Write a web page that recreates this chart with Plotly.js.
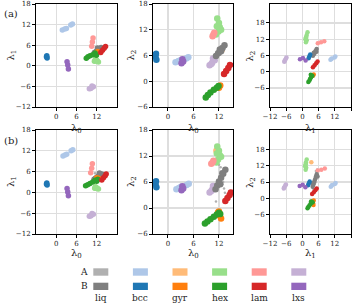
<!DOCTYPE html>
<html><head><meta charset="utf-8">
<script src="https://cdn.plot.ly/plotly-3.0.1.min.js"></script>
<style>html,body{margin:0;padding:0;background:#fff}#chart{width:355px;height:307px}</style>
</head><body><div id="chart"></div>
<script>
// ---- data: cluster points as [lambda0, lambda1, lambda2] ----
const phases = ['liq','bcc','gyr','hex','lam','lxs'];
const setLabels = ['A','B'];
const axisLabels = ['λ<sub>0</sub>','λ<sub>1</sub>','λ<sub>2</sub>'];

// row (a)
const aLiqA = [[12.0,4.4,6.6],[12.8,4.9,7.8]];
const aLiqB = [[11.3,3.9,5.9],[11.8,4.2,6.5],[12.3,4.6,7.1],[12.8,5.0,7.7],[13.3,5.3,8.4],[12.5,4.2,7.0],[12.2,5.2,7.4]];
const aBccA = [[1.8,10.4,4.4],[2.5,10.7,4.7],[3.0,10.9,4.9],[4.3,11.9,5.3],[4.8,12.2,5.6]];
const aBccB = [[-2.8,2.9,6.4],[-2.9,2.6,5.7],[-2.7,2.3,5.0]];
const aGyrA = [[12.6,4.8,7.3]];
const aGyrB = [[12.0,3.9,-1.5],[12.3,4.2,-1.0]];
const aHexA = [[11.6,1.9,14.6],[12.0,1.6,13.6],[12.2,1.3,12.6],[11.9,1.6,11.6],[11.3,1.3,10.9],[12.5,1.1,12.0],[11.5,1.4,12.8]];
const aHexB = [[8.9,2.2,-3.8],[9.4,2.6,-3.2],[10.0,2.9,-2.6],[10.8,3.2,-2.0],[11.5,3.7,-1.5],[11.9,3.1,-1.1]];
const aLamA = [[10.5,5.7,10.5],[10.7,6.9,10.9],[10.9,8.1,11.3]];
const aLamB = [[13.2,3.9,1.7],[13.7,4.5,2.4],[14.2,5.1,3.1],[14.6,5.6,3.8]];
const aLxsA = [[9.8,-6.7,3.7],[10.4,-6.4,4.3],[11.0,-6.1,4.9],[10.6,-5.9,5.3],[10.2,-6.6,4.0]];
const aLxsB = [[3.2,1.2,4.2],[3.4,0.2,5.1],[3.6,-0.9,4.6]];

// row (b)
const bLiqA = [[11.5,5.5,10.6],[12.0,5.0,10.0],[12.4,5.2,9.4],[12.8,4.6,5.5],[13.2,4.2,4.5],[13.4,4.0,3.5],[11.3,3.5,1.5],[13.0,4.8,6.0]];
const bLiqB = [[11.2,3.8,4.3],[11.6,4.1,5.2],[12.0,4.4,6.1],[12.5,4.7,7.0],[13.0,5.0,7.9],[13.5,5.3,8.8],[12.3,3.7,5.5],[12.8,5.6,8.0]];
const bBccA = [[2.0,10.5,4.3],[2.6,10.8,4.6],[3.1,11.0,4.9],[4.4,12.0,5.3],[4.9,12.3,5.6]];
const bBccB = [[-2.8,2.7,6.2],[-2.9,2.4,5.5],[-2.7,2.1,4.8]];
const bGyrA = [[11.4,3.3,13.2]];
const bGyrB = [[11.8,3.6,-1.0],[12.2,3.9,-1.8],[12.5,4.1,-2.4],[12.0,4.2,-0.8]];
const bHexA = [[11.6,1.6,14.2],[12.0,1.3,13.2],[12.2,1.1,12.2],[11.8,1.4,11.2],[11.4,1.2,10.5],[12.5,1.0,11.8],[11.5,1.3,12.6]];
const bHexB = [[8.7,1.9,-3.6],[9.3,2.2,-3.1],[10.0,2.6,-2.6],[10.8,3.0,-2.0],[11.5,3.5,-1.5],[12.0,3.2,-1.1],[12.3,3.8,-1.4]];
const bLamA = [[10.2,5.7,10.2],[10.5,7.0,10.5],[10.7,8.3,10.9]];
const bLamB = [[13.5,3.6,1.6],[14.0,4.2,2.3],[14.5,4.8,3.0],[14.8,5.3,3.6]];
const bLxsA = [[9.8,-6.9,3.6],[10.4,-6.6,4.2],[11.0,-6.3,4.8],[10.6,-6.1,5.1],[10.2,-6.8,3.9]];
const bLxsB = [[3.2,1.1,4.1],[3.4,0.1,5.0],[3.6,-1.0,4.5]];

// ---- styling ----
const colorsA = ['#b0b0b0','#aec7e8','#ffbb78','#98df8a','#ff9896','#c5b0d5'];
const colorsB = ['#7f7f7f','#1f77b4','#ff7f0e','#2ca02c','#d62728','#9467bd'];
const rows = [
  {A:[aLiqA,aBccA,aGyrA,aHexA,aLamA,aLxsA], B:[aLiqB,aBccB,aGyrB,aHexB,aLamB,aLxsB]},
  {A:[bLiqA,bBccA,bGyrA,bHexA,bLamA,bLxsA], B:[bLiqB,bBccB,bGyrB,bHexB,bLamB,bLxsB]}
];
const panels = [[0,1],[0,2],[1,2]];
const W=355,H=307;
const colPx = [[36,117],[153,233],[270,351]];
const rowPx = [[4,107],[130,234]];
const xTitleY = [128.5,253.5];
const yTitleX = [11,131,250];
const xRanges = [[-6,18],[-3.5,15.3],[-12,18]];
const yRanges = [[-12,18],[-6,18],[-13,25]];
const xTicks = [[0,6,12],[0,6,12],[-12,-6,0,6,12,18]];
const yTicks = [[-12,-6,0,6,12,18],[-6,0,6,12,18],[-6,0,6,12,18]];
const mSize = [5.5,6.5,4.5];
const FONT = 'DejaVu Serif';
const TICK = 7;

const traces=[]; const layout={
  width:W,height:H,margin:{l:0,r:0,t:0,b:0},paper_bgcolor:'#fff',plot_bgcolor:'#fff',
  showlegend:false,font:{family:FONT,size:TICK,color:'#222'},annotations:[],shapes:[]
};
function ann(text,xp,yp,size,extra){
  layout.annotations.push(Object.assign({text:text,xref:'paper',yref:'paper',x:xp/W,y:1-yp/H,xanchor:'center',yanchor:'middle',
    showarrow:false,font:{family:FONT,size:size,color:'#222'}},extra||{}));
}
rows.forEach((row,r)=>{
  panels.forEach((pp,c)=>{
    const n = r*3+c+1; const sfx = n===1?'':String(n);
    ['A','B'].forEach(s=>{
      row[s].forEach((pts,k)=>{
        const isScatter = (r===1 && s==='A' && k===0);
        traces.push({type:'scatter',mode:'markers',
          x:pts.map(q=>q[pp[0]]), y:pts.map(q=>q[pp[1]]),
          xaxis:'x'+sfx, yaxis:'y'+sfx, hoverinfo:'skip',
          marker:{color:(s==='A'?colorsA:colorsB)[k], size: isScatter?2.5:mSize[c], line:{width:0}}});
      });
    });
    const common = {showline:true,mirror:true,linecolor:'#000',linewidth:1,ticks:'outside',ticklen:3,tickwidth:1,tickcolor:'#000',
      showgrid:true,gridcolor:'#dedede',gridwidth:1.3,zeroline:false,tickangle:0,tickfont:{family:FONT,size:TICK,color:'#222'}};
    layout['xaxis'+sfx] = Object.assign({},common,{domain:[colPx[c][0]/W,colPx[c][1]/W],range:xRanges[c],
      tickvals:xTicks[c], anchor:'y'+sfx});
    layout['yaxis'+sfx] = Object.assign({},common,{domain:[1-rowPx[r][1]/H,1-rowPx[r][0]/H],range:yRanges[c],
      tickvals:yTicks[c], anchor:'x'+sfx});
    ann(axisLabels[pp[0]], (colPx[c][0]+colPx[c][1])/2, xTitleY[r], 10);
    ann(axisLabels[pp[1]], yTitleX[c], (rowPx[r][0]+rowPx[r][1])/2, 10, {textangle:-90});
  });
});
// panel labels
ann('(a)', 2, 13, 10, {xanchor:'left'});
ann('(b)', 2, 140, 10, {xanchor:'left'});
// legend
const legX0 = 93.3, legDX = 39.6;
[['A',268.3,275.7,colorsA],['B',282.7,290,colorsB]].forEach(([lab,y0,y1,cols])=>{
  ann(lab, 84, (y0+y1)/2, 9);
  cols.forEach((col,k)=>{
    layout.shapes.push({type:'rect',xref:'paper',yref:'paper',x0:(legX0+k*legDX)/W,x1:(legX0+k*legDX+15)/W,y0:1-y1/H,y1:1-y0/H,fillcolor:col,line:{width:0}});
  });
});
phases.forEach((ph,k)=>{ ann(ph, legX0+k*legDX+7.5, 298, 9); });
Plotly.newPlot('chart',traces,layout,{staticPlot:true,displayModeBar:false});
</script></body></html>
